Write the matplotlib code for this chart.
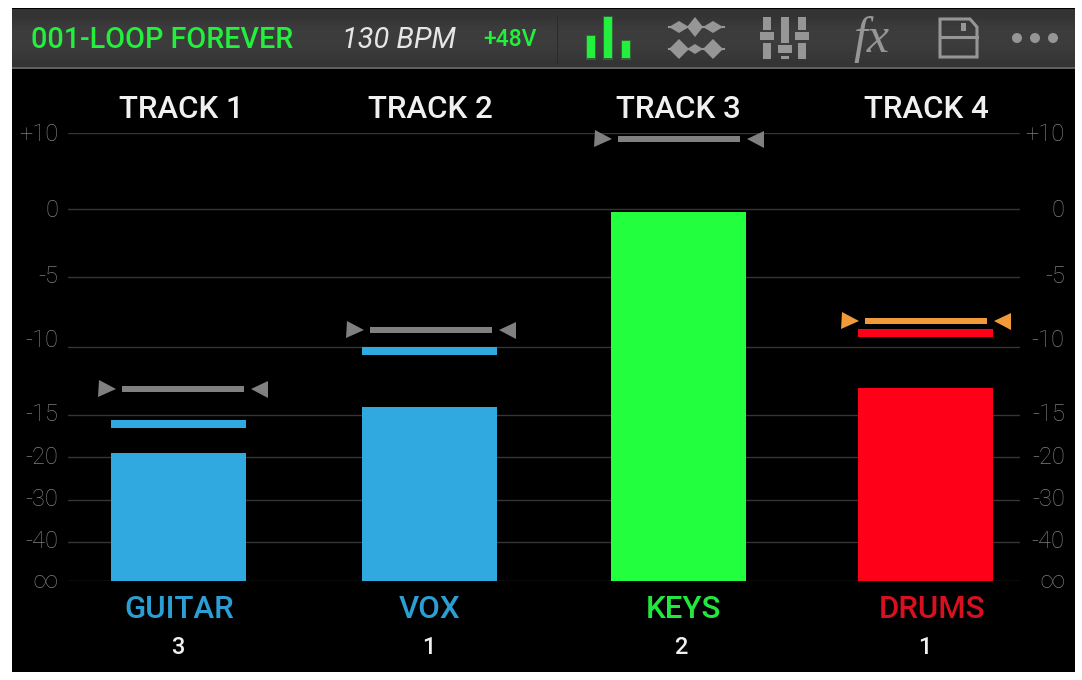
"""Four-track looper level screen: level bars, peak lines and fader handles on a dB axis."""
import numpy as np

import matplotlib
matplotlib.use('Agg')
import matplotlib.pyplot as plt
from matplotlib.patches import Circle, Polygon, Rectangle
from matplotlib.transforms import ScaledTranslation

plt.rcParams['font.family'] = ['Roboto', 'DejaVu Sans']

# data
TRACKS = ['TRACK 1', 'TRACK 2', 'TRACK 3', 'TRACK 4']
INPUTS = ['GUITAR', 'VOX', 'KEYS', 'DRUMS']
INPUT_NUMBERS = ['3', '1', '2', '1']
LEVELS = [-19.5, -14.4, -0.25, -13.0]
PEAKS = [-16.1, -10.3, np.nan, -9.0]
FADERS = [-13.1, -8.8, 9.2, -8.15]
TICK_DB = [10, 0, -5, -10, -15, -20, -30, -40, -60]
TICK_LABELS = ['+10', '0', '-5', '-10', '-15', '-20', '-30', '-40', '∞']

# layout, in reference pixels
W, H = 1082, 680
TICK_PX = [133, 209, 277, 347, 415, 457, 500, 542, 581]
BAR_X = [178, 429.5, 678.5, 925.5]
BAR_W = 135
FADER_X = [183, 431, 678.5, 925.5]
TITLE_X = [181, 430, 678, 926]
INPUT_X = [179, 430, 683, 932]
NUMBER_X = [178, 429, 681, 925]
LABEL_NUDGE = [1, 1, 3, 9, 3, 2, 3, 3, 2]

BAR_COLORS = ['#2fa9df', '#2fa9df', '#22ff3f', '#ff0019']
INPUT_COLORS = ['#2b9fd4', '#2b9fd4', '#20e83c', '#d8101f']
FADER_COLORS = ['#808080', '#808080', '#808080', '#f09a3a']
LABEL_COLOR = '#7e7e7e'
GREEN = '#22f03c'
ICON = '#969696'
PX = 0.72  # points per pixel at dpi=100

fig = plt.figure(figsize=(W / 100, H / 100), dpi=100, facecolor='white')

# panel, header and icons live on a full-figure axes in pixel coordinates
bg = fig.add_axes([0, 0, 1, 1])
bg.axis('off')
bg.add_patch(Rectangle((12, 8), 1063, 664, color='black', lw=0, zorder=0))
gradient = np.array([[0.20], [0.23], [0.24], [0.23], [0.21]])
bg.imshow(gradient, cmap='gray', vmin=0, vmax=1, aspect='auto', zorder=0.5,
          extent=(12, 1075, 67, 9), interpolation='bilinear')
bg.set_xlim(0, W)
bg.set_ylim(H, 0)
bg.add_patch(Rectangle((12, 67), 1063, 2, color='#606060', lw=0))
bg.add_patch(Rectangle((557, 15), 1, 49, color='#2a2a2a', lw=0))

bg.text(31, 40, '001-LOOP FOREVER', color=GREEN, fontsize=20.7, weight='medium', va='center', ha='left')
bg.text(342, 40, '130 BPM', color='#e6e6e6', fontsize=20.8, style='italic', va='center', ha='left')
bg.text(483, 40, '+48V', color=GREEN, fontsize=16.5, weight='medium', va='center', ha='left')

# levels icon
for x0, y0 in [(587, 36), (604, 17), (622, 41)]:
    bg.add_patch(Rectangle((x0 - 1.5, y0 - 1.5), 10.5, 61 - y0, color=GREEN, alpha=0.25, lw=0))
    bg.add_patch(Rectangle((x0, y0), 7.5, 58 - y0, color=GREEN, lw=0))

# eq icon
for yc, sizes in [(27, ((10, 6), (8, 10), (10, 6))), (49, ((10, 10), (8, 5), (10, 10)))]:
    bg.plot([669, 724], [yc, yc], color=ICON, lw=1.5)
    for xc, (sw, sh) in zip((679, 695, 713), sizes):
        bg.add_patch(Polygon([(xc - sw, yc), (xc, yc - sh), (xc + sw, yc), (xc, yc + sh)], color=ICON, lw=0))

# mixer icon
for xc, knob_top, knob_bot in [(767, 32, 40), (785, 45, 53), (802, 32, 40)]:
    bg.add_patch(Rectangle((xc - 4, 17), 8, knob_top - 19, color=ICON, lw=0))
    bg.add_patch(Rectangle((xc - 4, knob_bot + 3), 8, 59 - knob_bot - 3, color=ICON, lw=0))
    bg.add_patch(Rectangle((xc - 7, knob_top), 14, knob_bot - knob_top, color=ICON, lw=0))

bg.text(872, 40, 'fx', color=ICON, fontsize=36, family='Liberation Serif', style='italic',
        ha='center', va='center')

# save icon
bg.add_patch(Polygon([(940, 19), (970, 19), (977, 27), (977, 57), (940, 57)], closed=True,
                     fill=False, edgecolor=ICON, lw=2.2))
bg.plot([940, 977], [37, 37], color=ICON, lw=2.2)
bg.add_patch(Rectangle((961, 23), 5, 8, color=ICON, lw=0))

# more icon
for xc in (1017, 1035, 1053):
    bg.add_patch(Circle((xc, 38), 5, color=ICON, lw=0))

# titles and input labels
for x, name in zip(TITLE_X, TRACKS):
    bg.text(x, 109, name, color='#f0f0f0', fontsize=22.5, weight='medium', ha='center', va='center')
for x, name, col in zip(INPUT_X, INPUTS, INPUT_COLORS):
    bg.text(x, 610, name, color=col, fontsize=22.5, weight='medium', ha='center', va='center')
for x, num in zip(NUMBER_X, INPUT_NUMBERS):
    bg.text(x, 647, num, color='#f0f0f0', fontsize=17, weight='medium', ha='center', va='center')


# the meter: dB axis spaced as on the screen, x in reference pixels
def _forward(db):
    return np.interp(db, TICK_DB[::-1], TICK_PX[::-1])


def _inverse(px):
    return np.interp(px, TICK_PX, TICK_DB)


ax = fig.add_axes([68 / W, (H - 581) / H, (1020 - 68) / W, (581 - 133) / H])
ax.patch.set_alpha(0)
for spine in ax.spines.values():
    spine.set_visible(False)
ax.set_yscale('function', functions=(lambda d: -_forward(d), lambda p: _inverse(-np.asarray(p))))
ax.set_xlim(68, 1020)
ax.set_ylim(-60, 10)
ax.set_xticks([])
ax.set_yticks(TICK_DB, TICK_LABELS)
ax.minorticks_off()
ax.set_axisbelow(True)
ax.grid(True, axis='y', color='#343434', lw=1)
ax.tick_params(axis='y', length=0, labelsize=17, labelcolor=LABEL_COLOR, left=False, right=False,
               labelleft=True, labelright=True, pad=7)

ax.bar(BAR_X, np.array(LEVELS) + 60, bottom=-60, width=BAR_W, color=BAR_COLORS, lw=0)
for x, peak, col in zip(BAR_X, PEAKS, BAR_COLORS):
    if not np.isnan(peak):
        ax.hlines(peak, x - BAR_W / 2, x + BAR_W / 2, color=col, lw=8 * PX)
for x, fader, col in zip(FADER_X, FADERS, FADER_COLORS):
    ax.hlines(fader, x - 61, x + 61, color=col, lw=6 * PX)
    ax.plot(x - 76, fader, marker='>', color=col, ms=17 * PX, mew=0, clip_on=False)
    ax.plot(x + 76, fader, marker='<', color=col, ms=17 * PX, mew=0, clip_on=False)

# right-hand labels end at the panel margin; some labels sit above their line
for tick, nudge in zip(ax.yaxis.get_major_ticks(), LABEL_NUDGE):
    tick.label1.set_fontweight('light')
    tick.label2.set_fontweight('light')
    shift = ScaledTranslation(0, nudge / 100, fig.dpi_scale_trans)
    tick.label1.set_transform(tick.label1.get_transform() + shift)
    tick.label2.set_transform(tick.label2.get_transform() + shift + ScaledTranslation(35 / 100, 0, fig.dpi_scale_trans))
    tick.label2.set_horizontalalignment('right')

fig.savefig('out.png', dpi=100, facecolor='white')
plt.close(fig)
